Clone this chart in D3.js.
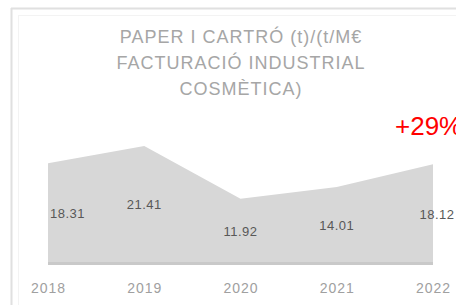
<!DOCTYPE html>
<html><head><meta charset="utf-8">
<script src="https://cdn.jsdelivr.net/npm/d3@7"></script>
<style>html,body{margin:0;padding:0;background:#fff;overflow:hidden}</style>
</head><body>
<script>
const years = ["2018","2019","2020","2021","2022"];
const values = [18.31, 21.41, 11.92, 14.01, 18.12];
const valueLabels = ["18.31","21.41","11.92","14.01","18.12"];
const titleLines = ["PAPER I CARTRÓ (t)/(t/M€","FACTURACIÓ INDUSTRIAL","COSMÈTICA)"];
const changeLabel = "+29%";

const W = 456, H = 305;
const svg = d3.select("body").append("svg").attr("width", W).attr("height", H);

// card frame
svg.append("line").attr("x1",11).attr("x2",W).attr("y1",8.5).attr("y2",8.5).attr("stroke","#e0e0e0").attr("stroke-width",2);
svg.append("line").attr("x1",11.5).attr("x2",11.5).attr("y1",8).attr("y2",H).attr("stroke","#e0e0e0").attr("stroke-width",2);
svg.append("line").attr("x1",18).attr("x2",W).attr("y1",15.5).attr("y2",15.5).attr("stroke","#f3f3f3").attr("stroke-width",1);
svg.append("line").attr("x1",18.5).attr("x2",18.5).attr("y1",15).attr("y2",H).attr("stroke","#f3f3f3").attr("stroke-width",1);

const x = d3.scalePoint().domain(years).range([48, 433]);
const y = d3.scaleLinear().domain([0, 25]).range([265, 126]);

const area = d3.area().x((d,i)=>x(years[i])).y0(y(0)).y1(d=>y(d));
svg.append("path").datum(values).attr("d", area).attr("fill","#d7d7d7");
svg.append("line").attr("x1",x(years[0])).attr("x2",x(years[4])).attr("y1",y(0)-1.5).attr("y2",y(0)-1.5)
  .attr("stroke","#c9c9c9").attr("stroke-width",3);

// title
const t = svg.append("text").attr("text-anchor","middle")
  .attr("font-family","Liberation Sans, Arial, sans-serif").attr("font-size",18)
  .attr("letter-spacing",1).attr("fill","#a6a6a6");
titleLines.forEach((l,i)=>t.append("tspan").attr("x",241).attr("y",43+i*26).text(l));

// change label
svg.append("text").attr("x",395).attr("y",135).attr("font-family","Liberation Sans, Arial, sans-serif")
  .attr("font-size",26).attr("fill","#ff0000").text(changeLabel);

// value labels
svg.selectAll("text.val").data(values).enter().append("text").attr("class","val")
  .attr("x",(d,i)=> i===0 ? x(years[i])+2 : x(years[i]) + (i===4?4:0))
  .attr("y",(d)=> y(d/2)+4)
  .attr("text-anchor",(d,i)=> i===0 ? "start" : "middle")
  .attr("font-family","Liberation Sans, Arial, sans-serif").attr("font-size",13)
  .attr("letter-spacing",0.5).attr("fill","#585858")
  .text((d,i)=>valueLabels[i]);

// x axis labels
const axis = d3.axisBottom(x).tickSize(0).tickPadding(0);
const g = svg.append("g").attr("transform",`translate(0,${283})`).call(axis);
g.select(".domain").remove();
g.selectAll("text").attr("font-family","Liberation Sans, Arial, sans-serif").attr("font-size",14)
  .attr("letter-spacing",1).attr("fill","#a0a0a0").attr("dy","0.71em");
</script>
</body></html>
